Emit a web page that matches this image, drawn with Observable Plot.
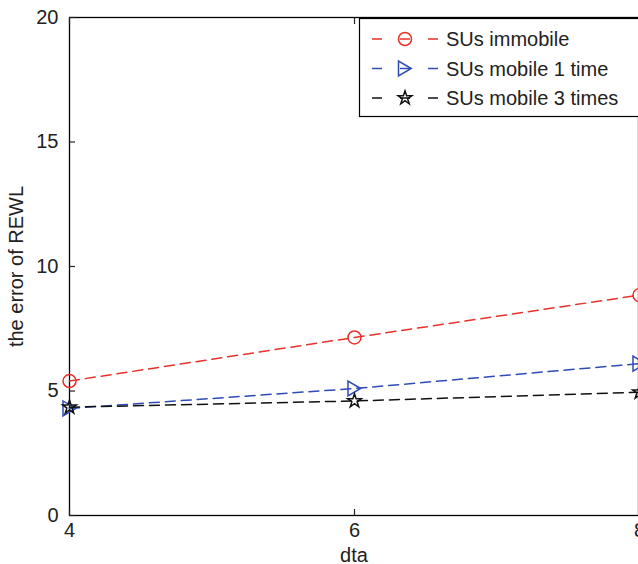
<!DOCTYPE html>
<html><head><meta charset="utf-8">
<script src="https://cdn.jsdelivr.net/npm/d3@7"></script>
<script src="https://cdn.jsdelivr.net/npm/@observablehq/plot@0.6"></script>
<style>
body{margin:0;background:#fff;}
#wrap{position:relative;width:638px;height:564px;overflow:hidden;}
#legend{position:absolute;left:0;top:0;}
</style></head><body>
<div id="wrap"></div>
<script>
const xValues = [4, 6, 8];
const seriesNames = ["SUs immobile", "SUs mobile 1 time", "SUs mobile 3 times"];
const immobile = [5.4, 7.15, 8.85];
const mobile1 = [4.3, 5.1, 6.1];
const mobile3 = [4.35, 4.6, 4.95];
const seriesColors = ["#e8312a", "#2f4bb4", "#111111"];
const yTicks = [0, 5, 10, 15, 20];
const xTicks = [4, 6, 8];

const triRight = {draw(ctx, size){ const r = Math.sqrt(size/Math.PI);
  ctx.moveTo(r*0.95, 0); ctx.lineTo(-r, -r*1.15); ctx.lineTo(-r, r*1.15); ctx.closePath(); }};
const symbols = ["circle", triRight, "star"];
const radii = [6.5, 6.5, 4.3];

const seriesValues = [immobile, mobile1, mobile3];
const data = seriesNames.flatMap((name, i) => xValues.map((x, j) => ({series: name, x, y: seriesValues[i][j]})));

const fs = 20;
const marks = [Plot.frame({stroke: "#000", strokeWidth: 1.3})];
seriesNames.forEach((name, i) => {
  const d = data.filter(e => e.series === name);
  marks.push(Plot.line(d, {x: "x", y: "y", stroke: seriesColors[i], strokeWidth: 1.5, strokeDasharray: "10,6"}));
  marks.push(Plot.dot(d, {x: "x", y: "y", stroke: seriesColors[i], strokeWidth: 1.5, fill: "none", r: radii[i], symbol: symbols[i]}));
});
marks.push(Plot.axisY({ticks: yTicks, tickSize: 0, tickPadding: 11, fontSize: fs, label: "the error of REWL", labelAnchor: "center", labelArrow: "none", labelOffset: 61}));
marks.push(Plot.axisY({ticks: yTicks, tickSize: -6, tickFormat: () => "", label: null, strokeWidth: 1.2}));
marks.push(Plot.axisX({ticks: xTicks, tickSize: 0, tickPadding: 7, fontSize: fs, tickFormat: d => String(d), label: "dta", labelAnchor: "center", labelArrow: "none", labelOffset: 46}));
marks.push(Plot.axisX({ticks: xTicks, tickSize: -6, tickFormat: () => "", label: null, strokeWidth: 1.2}));
marks.push(Plot.axisX({ticks: xTicks, anchor: "top", tickSize: -6, tickFormat: () => "", label: null, strokeWidth: 1.2}));

const chart = Plot.plot({
  width: 638, height: 564,
  marginLeft: 69, marginTop: 17, marginBottom: 49, marginRight: 0,
  style: {fontFamily: "'Liberation Sans', Arial, sans-serif", fontSize: fs + "px", color: "#222", background: "#fff"},
  x: {domain: [4, 8], range: [69, 639]},
  y: {domain: [0, 20]},
  marks
});
document.getElementById("wrap").appendChild(chart);

// legend overlay
const svg = d3.select("#wrap").append("svg").attr("id", "legend").attr("width", 638).attr("height", 564)
  .style("font-family", "'Liberation Sans', Arial, sans-serif");
svg.append("rect").attr("x", 359.5).attr("y", 18.5).attr("width", 300).attr("height", 98)
  .attr("fill", "#fff").attr("stroke", "#000").attr("stroke-width", 1.2);
const rowY = [39, 68.5, 98];
seriesNames.forEach((name, i) => {
  const y = rowY[i];
  svg.append("line").attr("x1", 372).attr("x2", 438).attr("y1", y).attr("y2", y)
    .attr("stroke", seriesColors[i]).attr("stroke-width", 1.5).attr("stroke-dasharray", "10,18");
  const sym = d3.symbol().type(i === 0 ? d3.symbolCircle : i === 1 ? triRight : d3.symbolStar).size(Math.PI * radii[i] * radii[i]);
  svg.append("path").attr("d", sym()).attr("transform", `translate(405,${y})`)
    .attr("fill", "none").attr("stroke", seriesColors[i]).attr("stroke-width", 1.5);
  svg.append("text").attr("x", 446).attr("y", y).attr("dy", "0.35em").attr("font-size", fs)
    .attr("fill", "#222").text(name);
});
</script>
</body></html>
